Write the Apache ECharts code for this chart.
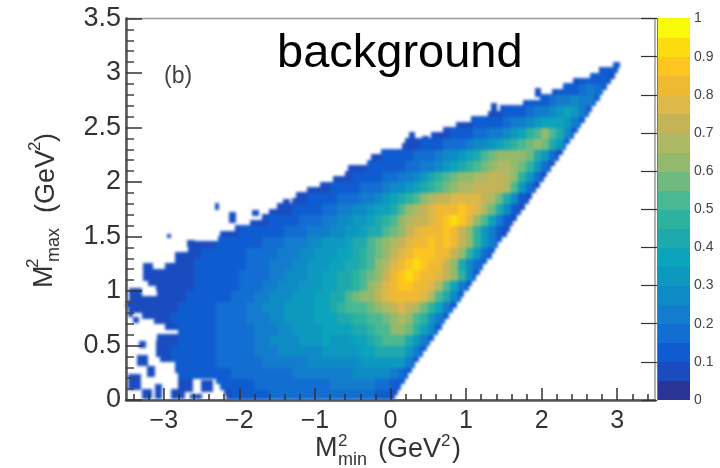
<!DOCTYPE html>
<html><head><meta charset="utf-8">
<style>html,body{margin:0;padding:0;background:#fff}
#heat,#axes{position:absolute;left:0;top:0;width:720px;height:468px}
#heat{filter:blur(1.8px)}#axes{filter:blur(0.5px)}</style>
<script src="https://cdn.jsdelivr.net/npm/echarts@6/dist/echarts.min.js"></script>
</head><body><div id="heat"></div><div id="axes"></div>
<script>
// Colour bands of the palette, 0..1 in twenty steps
const palette = ['#2b3596','#1a4cc0','#0f5cd0','#126ed2','#137ccd','#0e8ac5','#0d98c0','#0ca3bd','#1fa9ac','#2db2a0','#4bb894','#6fba80','#93ba6c','#aeb965','#c5b357','#ddb84b','#f0b934','#fdc520','#fbdc10','#f9f90a'];
const xMajor = [-3,-2,-1,0,1,2,3];
const xMinor = [-3.4,-3.2,-2.8,-2.6,-2.4,-2.2,-1.8,-1.6,-1.4,-1.2,-0.8,-0.6,-0.4,-0.2,0.2,0.4,0.6,0.8,1.2,1.4,1.6,1.8,2.2,2.4,2.6,2.8,3.2,3.4];
// Left and right extent of the populated area for each 0.05 GeV2 slice of M2max
const sliceLeft = [-2.17,-2.2,-2.25,-2.3,-2.8,-2.85,-2.85,-3.05,-3.1,-3.1,-3.1,-3.08,-2.8,-2.98,-3.12,-3.28,-3.46,-3.5,-3.46,-3.08,-3.1,-3.2,-3.27,-3.27,-2.98,-2.85,-2.85,-2.67,-2.6,-2.27,-2.25,-2.05,-1.85,-1.7,-1.6,-1.5,-1.3,-1.25,-1.1,-0.92,-0.75,-0.6,-0.55,-0.3,-0.25,-0.12,0.16,0.2,0.54,0.7,0.87,1.07,1.3,1.45,1.76,1.98,2.15,2.29,2.42,2.64,2.77,2.95];
const sliceRight = [0.05,0.09,0.13,0.18,0.23,0.28,0.32,0.37,0.42,0.47,0.52,0.57,0.62,0.67,0.72,0.77,0.82,0.87,0.92,0.97,1.03,1.07,1.13,1.18,1.22,1.27,1.33,1.38,1.42,1.47,1.53,1.57,1.62,1.67,1.72,1.77,1.82,1.87,1.92,1.97,2.02,2.07,2.12,2.17,2.22,2.27,2.32,2.37,2.42,2.47,2.52,2.57,2.62,2.66,2.71,2.76,2.81,2.86,2.91,2.96,3.01,3.03];
// M2min of the first 0.1-wide cell of each 0.1 GeV2 row of M2max
const rowStart = [-2.2,-2.3,-2.9,-3.1,-3.1,-3.1,-3.0,-3.3,-3.5,-3.5,-3.2,-3.3,-3.0,-2.9,-2.6,-2.3,-1.9,-1.6,-1.3,-1.1,-0.8,-0.6,-0.3,0.1,0.5,0.8,1.3,1.7,2.1,2.4,2.7];
// Density x100, row by row from M2max = 0
const row00 = [9,11,12,13,14,14,15,15,16,16,17,17,17,18,18,18,18,17,16,15,14,12,9,7];
const row01 = [10,11,12,13,14,15,15,16,16,17,17,18,18,19,19,20,20,20,21,20,20,19,17,14,10,8];
const row02 = [9,10,11,11,12,13,14,14,15,15,16,17,18,18,19,19,20,20,21,21,22,23,23,24,25,26,26,27,25,22,17,11];
const row03 = [9,9,10,10,11,12,13,14,15,16,16,17,18,19,20,21,22,23,24,24,25,25,26,26,27,28,29,30,31,32,32,32,30,24,13];
const row04 = [9,9,10,10,11,12,13,14,15,16,17,18,19,21,23,24,25,26,27,28,28,29,30,30,31,32,33,35,37,40,42,42,40,34,24,13];
const row05 = [9,9,9,10,11,12,13,14,15,16,17,18,19,21,23,25,27,28,29,30,31,33,38,34,33,34,36,38,42,46,50,54,52,44,32,22,12];
const row06 = [9,9,10,11,12,13,14,15,16,17,18,19,20,22,24,26,28,30,32,33,34,36,38,36,38,40,42,46,50,54,60,60,56,46,38,26,12];
const row07 = [8,8,9,9,10,10,11,12,13,14,15,16,17,18,20,22,24,26,28,30,32,33,34,35,36,38,40,44,46,48,50,54,58,64,66,62,54,46,34,24,12];
const row08 = [7,8,8,8,8,8,9,10,11,12,13,14,15,16,17,19,21,23,25,27,29,30,32,33,34,36,38,42,46,50,52,54,56,60,66,72,76,74,66,56,46,36,24,12];
const row09 = [7,8,8,8,8,8,8,9,10,10,11,12,13,14,15,17,19,21,23,25,27,29,31,32,34,36,38,40,44,50,58,60,62,70,78,80,82,82,80,76,66,52,40,26,12];
const row10 = [8,8,8,8,9,9,10,11,12,12,13,14,15,17,19,21,23,25,27,29,31,33,34,36,38,40,44,48,54,60,68,76,84,88,86,82,80,76,66,52,36,22,10];
const row11 = [8,8,8,8,8,8,9,10,10,11,12,13,14,15,16,17,19,21,23,25,27,29,31,33,35,37,40,42,46,52,58,64,72,82,88,90,86,84,80,76,70,60,46,28,12];
const row12 = [8,8,8,9,10,10,11,12,13,14,14,15,16,18,20,22,24,26,28,30,32,33,36,38,40,44,48,54,60,68,76,84,88,90,86,84,80,74,60,44,28,15,10];
const row13 = [8,8,8,9,10,10,11,12,13,14,15,15,17,18,20,22,24,26,28,30,32,34,36,38,42,46,50,56,62,70,78,84,88,88,86,84,80,74,62,48,30,18,10];
const row14 = [8,8,9,10,10,11,12,13,14,15,16,18,20,22,24,26,28,30,32,34,37,40,44,50,56,62,68,72,78,82,84,86,84,86,80,72,62,48,34,20,10];
const row15 = [8,8,9,10,10,11,12,13,14,15,17,18,20,22,24,26,28,30,33,36,40,44,50,56,62,70,76,80,82,84,86,82,74,62,48,34,22,12,8];
const row16 = [8,8,9,10,11,12,13,15,17,19,21,23,25,28,31,34,38,42,46,52,60,66,72,74,78,82,86,92,86,78,64,50,38,24,12,8];
const row17 = [8,8,9,10,12,13,14,16,18,20,22,25,28,31,35,38,44,52,62,68,72,76,80,82,84,88,84,76,66,56,42,26,14,8];
const row18 = [8,9,10,11,12,13,15,17,19,21,24,27,32,38,42,48,54,60,66,70,72,76,78,76,76,72,66,58,44,28,14,8];
const row19 = [8,8,9,10,11,12,13,15,17,19,21,25,28,32,36,42,46,52,58,62,66,68,70,72,74,72,68,52,34,15,8];
const row20 = [8,8,9,10,11,12,14,16,18,20,24,28,34,42,46,50,56,60,64,66,68,70,70,68,62,46,30,15,8];
const row21 = [8,8,9,10,11,12,13,14,16,18,20,23,26,30,35,40,46,52,58,62,66,66,62,56,48,30,15,8];
const row22 = [8,9,10,11,12,13,15,17,19,22,25,28,33,38,43,50,56,62,64,62,60,56,44,30,15,8];
const row23 = [8,8,9,10,11,13,15,17,19,22,25,28,33,37,40,45,50,56,60,56,44,30,12];
const row24 = [8,8,9,10,12,13,15,17,20,24,29,33,38,45,54,60,54,42,26,12];
const row25 = [8,8,9,10,11,12,14,17,20,24,28,32,36,38,36,34,24,12];
const row26 = [8,9,10,12,14,17,20,24,28,32,35,34,24,12];
const row27 = [8,10,12,14,17,20,24,26,24,20,12];
const row28 = [9,10,12,14,17,20,17,10];
const row29 = [8,10,12,14,12,8];
const row30 = [8,10,10,8];
const rows = [row00,row01,row02,row03,row04,row05,row06,row07,row08,row09,row10,row11,row12,row13,row14,row15,row16,row17,row18,row19,row20,row21,row22,row23,row24,row25,row26,row27,row28,row29,row30];
// Isolated sparse patches: M2min from, M2min to, M2max from, M2max to, density x100
const islands = [[-3.47,-3.31,0.1,0.23,9],[-3.35,-3.21,0.32,0.41,9],[-3.32,-3.24,0.48,0.54,9],[-3.28,-3.16,0.01,0.1,9],[-3.11,-3.03,0.01,0.14,9],[-2.9,-2.72,0.01,0.1,9],[-3.22,-3.12,0.22,0.31,9],[-3.4,-3.34,0.71,0.76,9],[-3.47,-3.42,0.77,0.83,9],[-2.65,-2.5,0.01,0.05,9],[-2.31,-2.27,1.75,1.8,9],[-2.13,-2.05,1.63,1.72,9],[-1.83,-1.75,1.69,1.74,9],[-1.42,-1.34,1.76,1.84,9],[-2.95,-2.91,1.49,1.52,9],[-2.68,-2.6,1.41,1.46,9],[-2.8,-2.62,0.08,0.2,9],[-2.5,-2.35,0.08,0.18,9],[-3.45,-3.3,0.95,1.02,9],[-3.27,-3.15,1.2,1.25,9],[1.33,1.4,2.65,2.72,9],[1.92,1.98,2.78,2.86,9],[0.25,0.32,2.4,2.45,9],[0.42,0.5,2.36,2.42,9]];

const cells = islands.slice();
sliceLeft.forEach((left, j) => {
  const k = Math.floor(j / 2), y0 = j * 0.05, y1 = y0 + 0.05;
  rows[k].forEach((z, i) => {
    const a = Math.max(rowStart[k] + i * 0.1, left);
    const b = Math.min(rowStart[k] + (i + 1) * 0.1, sliceRight[j]);
    if (a < b) cells.push([a, b, y0, y1, z]);
  });
});
const barCells = palette.map((c, i) => [0, 1, i * 0.05, (i + 1) * 0.05, i * 5 + 2.5]);

function renderCell(params, api) {
  const p0 = api.coord([api.value(0), api.value(3)]);
  const p1 = api.coord([api.value(1), api.value(2)]);
  const idx = Math.min(palette.length - 1, Math.floor(api.value(4) / 5));
  const x = Math.floor(p0[0]), y = Math.floor(p0[1]);
  return { type: 'rect',
    shape: { x: x, y: y, width: Math.ceil(p1[0]) - x, height: Math.ceil(p1[1]) - y },
    style: { fill: palette[idx] } };
}
const F = '"Liberation Sans", Arial, sans-serif';
const txt = (x, y, t, size, rot, fill) => ({ type: 'text', x: x, y: y, rotation: rot || 0, z: 20,
  style: { text: t, font: size + 'px ' + F, fill: fill || '#333', textAlign: 'left', textVerticalAlign: 'middle' } });
const R = Math.PI / 2;
const plotGrid = { left: 126, right: 65, top: 18.5, bottom: 68 };

// Lower layer: the density map, softened as in the reference
echarts.init(document.getElementById('heat')).setOption({
  animation: false,
  grid: plotGrid,
  xAxis: { type: 'value', min: -3.5, max: 3.5, show: false },
  yAxis: { type: 'value', min: 0, max: 3.5, show: false },
  series: [{ type: 'custom', renderItem: renderCell, data: cells, progressive: 0, silent: true,
    encode: { x: [0, 1], y: [2, 3] } }]
});

// Upper layer: axes, colour bar, labels
echarts.init(document.getElementById('axes')).setOption({
  animation: false,
  grid: [
    Object.assign({ show: true, borderColor: '#999', borderWidth: 1.5 }, plotGrid),
    { left: 657, width: 33, top: 18.5, bottom: 68 }
  ],
  xAxis: [
    { type: 'value', gridIndex: 0, min: -3.5, max: 3.5, splitLine: { show: false }, z: 5,
      axisLine: { onZero: false, lineStyle: { color: '#555', width: 2.5 } },
      axisTick: { show: true, inside: true, length: 12, lineStyle: { color: '#333', width: 1.5 }, customValues: xMajor },
      axisLabel: { customValues: xMajor, margin: 9, fontSize: 25, fontFamily: F, color: '#333',
        formatter: v => String(v).replace('-', '\u2212') } },
    { type: 'value', gridIndex: 0, min: -3.5, max: 3.5, position: 'bottom', splitLine: { show: false }, z: 5,
      axisLine: { show: false, onZero: false },
      axisTick: { show: true, inside: true, length: 6, lineStyle: { color: '#333', width: 1.5 }, customValues: xMinor },
      axisLabel: { show: false } },
    { type: 'value', gridIndex: 1, min: 0, max: 1, show: false }
  ],
  yAxis: [
    { type: 'value', gridIndex: 0, min: 0, max: 3.5, interval: 0.5, splitLine: { show: false }, z: 5,
      axisLine: { show: true, onZero: false, lineStyle: { color: '#555', width: 2.5 } },
      axisTick: { show: true, inside: true, length: 16, lineStyle: { color: '#333', width: 1.5 } },
      minorTick: { show: true, splitNumber: 5, length: 8, lineStyle: { color: '#444', width: 1.5 } },
      axisLabel: { margin: 5, fontSize: 27, fontFamily: F, color: '#333' } },
    { type: 'value', gridIndex: 1, min: 0, max: 1, interval: 0.1, position: 'right', splitLine: { show: false }, z: 5,
      axisLine: { show: true, lineStyle: { color: '#777', width: 1 } },
      axisTick: { show: true, inside: true, length: 16, lineStyle: { color: '#333', width: 1.2 } },
      axisLabel: { margin: 4, fontSize: 14, fontFamily: F, color: '#444' } }
  ],
  series: [
    { type: 'custom', xAxisIndex: 2, yAxisIndex: 1, renderItem: renderCell, data: barCells, silent: true,
      encode: { x: [0, 1], y: [2, 3] } }
  ],
  graphic: [
    txt(277, 54, 'background', 47, 0, '#000'),
    txt(164, 77, '(b)', 23, 0, '#444'),
    txt(315, 449, 'M', 27), txt(338, 441, '2', 17), txt(338, 460, 'min', 18),
    txt(378, 450, '(GeV', 27), txt(441, 441, '2', 17), txt(452, 450, ')', 27),
    txt(45, 288, 'M', 27, R), txt(33, 268, '2', 17, R), txt(54, 262, 'max', 18, R),
    txt(47, 213, '(GeV', 27, R), txt(35, 151, '2', 17, R), txt(47, 142, ')', 27, R)
  ]
});
</script></body></html>
